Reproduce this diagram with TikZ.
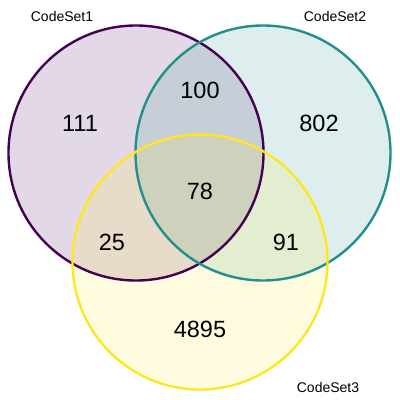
\documentclass[tikz,border=0pt]{standalone}
\usepackage{fontspec}
\setmainfont{Liberation Sans}
\definecolor{setA}{HTML}{440154}
\definecolor{setB}{HTML}{21908C}
\definecolor{setC}{HTML}{FDE725}
\begin{document}
\begin{tikzpicture}[x=1pt,y=-1pt,
  setfill/.style={fill=#1,fill opacity=0.15},
  setline/.style={draw=#1,line width=2.4pt},
  count/.style={font=\fontsize{23.5}{26}\selectfont,inner sep=0pt},
  setname/.style={font=\fontsize{14}{16}\selectfont,inner sep=0pt}]
\useasboundingbox (0,0) rectangle (400,400);
\coordinate (cA) at (136,153);
\coordinate (cB) at (263,153);
\coordinate (cC) at (200,262);
% translucent fills
\fill[setfill=setA] (cA) circle (127.5);
\fill[setfill=setB] (cB) circle (127.5);
\fill[setfill=setC] (cC) circle (127.5);
% outlines
\draw[setline=setA] (cA) circle (127.5);
\draw[setline=setB] (cB) circle (127.5);
\draw[setline=setC] (cC) circle (127.5);
% region counts
\node[count] (nA)   at (80,123)  {111};
\node[count] (nAB)  at (200,90)  {100};
\node[count] (nB)   at (319,123) {802};
\node[count] (nABC) at (200,191) {78};
\node[count] (nAC)  at (112,242) {25};
\node[count] (nBC)  at (286,242) {91};
\node[count] (nC)   at (200,329) {4895};
% set names
\node[setname] (lA) at (62,16)  {CodeSet1};
\node[setname] (lB) at (335,16) {CodeSet2};
\node[setname] (lC) at (328,387) {CodeSet3};
\end{tikzpicture}
\end{document}
